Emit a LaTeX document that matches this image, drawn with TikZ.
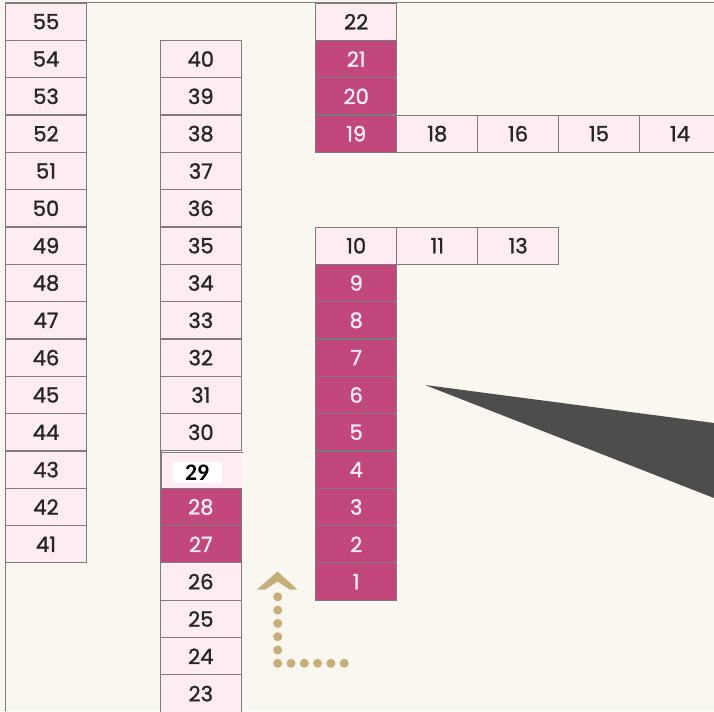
\documentclass[tikz,border=0pt]{standalone}
\usepackage{fontspec}
\setmainfont{Poppins}[FakeBold=1.2]
\newfontfamily\numbold{Carlito}
\usetikzlibrary{positioning}

\definecolor{paper}{HTML}{FAF7F1}
\definecolor{seatpink}{HTML}{FDEDF2}
\definecolor{seatred}{HTML}{C2477D}
\definecolor{seatline}{HTML}{7F7A7C}
\definecolor{pointer}{HTML}{4D4D4D}
\definecolor{guide}{HTML}{C5AE78}

\tikzset{
  seat/.style={draw=seatline, line width=0.6pt, fill=seatpink,
    minimum width=1.614cm, minimum height=0.7467cm, inner sep=0pt,
    font=\fontsize{12}{12}\selectfont, text=black!85},
  taken/.style={seat, fill=seatred, text=seatpink}
}

\begin{document}
\begin{tikzpicture}[x=0.02cm, y=-0.02cm]
\useasboundingbox (0,0) rectangle (714,711);
\clip (0,0) rectangle (714,711);
\fill[paper] (0,0) rectangle (714,711);
\draw[seatline, line width=0.6pt] (5.5,711) -- (5.5,2.5) -- (714,2.5);

% left column
\foreach \n [count=\i from 0] in {55,54,...,41}
  \node[seat] (s\n) at (46,{21.67+37.33*\i}) {\n};

% middle column
\foreach \n [count=\i from 1] in {40,39,...,30}
  \node[seat] (s\n) at (200.8,{21.67+37.33*\i}) {\n};
\node[seat, draw=none] (s29) at (201.8,470.6) {};
\node[taken] (s28) at (200.8,506.9) {28};
\node[taken] (s27) at (200.8,544.3) {27};
\draw[seatline, line width=0.9pt] (161.2,489) -- (161.2,449.5);
\draw[seatline, line width=0.7pt] (161.2,452.7) -- (242.5,452.7);
\node[fill=white, minimum width=0.98cm, minimum height=0.43cm, inner sep=0pt,
  font=\numbold\bfseries\fontsize{13.5}{13.5}\selectfont] (l29) at (197.2,472.5) {29};
\foreach \n [count=\i from 15] in {26,25,24,23}
  \node[seat] (s\n) at (200.8,{21.67+37.33*\i}) {\n};

% right block
\node[seat] (s22) at (356.2,21.67) {22};
\node[taken] (s21) at (356.2,59) {21};
\node[taken] (s20) at (356.2,96.3) {20};
\node[taken] (s19) at (356.2,133.7) {19};
\node[seat] (s18) at (437.3,133.7) {18};
\node[seat] (s16) at (518.1,133.7) {16};
\node[seat] (s15) at (599,133.7) {15};
\node[seat] (s14) at (680,133.7) {14};

\node[seat] (s10) at (356.2,245.7) {10};
\node[seat] (s11) at (437.3,245.7) {11};
\node[seat] (s13) at (518.1,245.7) {13};
\foreach \n [count=\i from 7] in {9,8,...,1}
  \node[taken] (s\n) at (356.2,{21.67+37.33*\i}) {\n};

% pointer
\fill[pointer] (425,385) -- (714,423) -- (714,498) -- cycle;

% guide arrow
\coordinate (bend) at (277.7,663.3);
\foreach \k in {0,...,5}
  \fill[guide] (277.7+13.3*\k,663.3) circle (0.09cm);
\foreach \k in {1,...,5}
  \fill[guide] (277.7,663.3-13.3*\k) circle (0.09cm);
\fill[guide] (256.7,589.7) -- (277.5,571.5) -- (297.5,589.7) -- (290,589.7)
  -- (277.5,581.5) -- (265,589.7) -- cycle;
\end{tikzpicture}
\end{document}
